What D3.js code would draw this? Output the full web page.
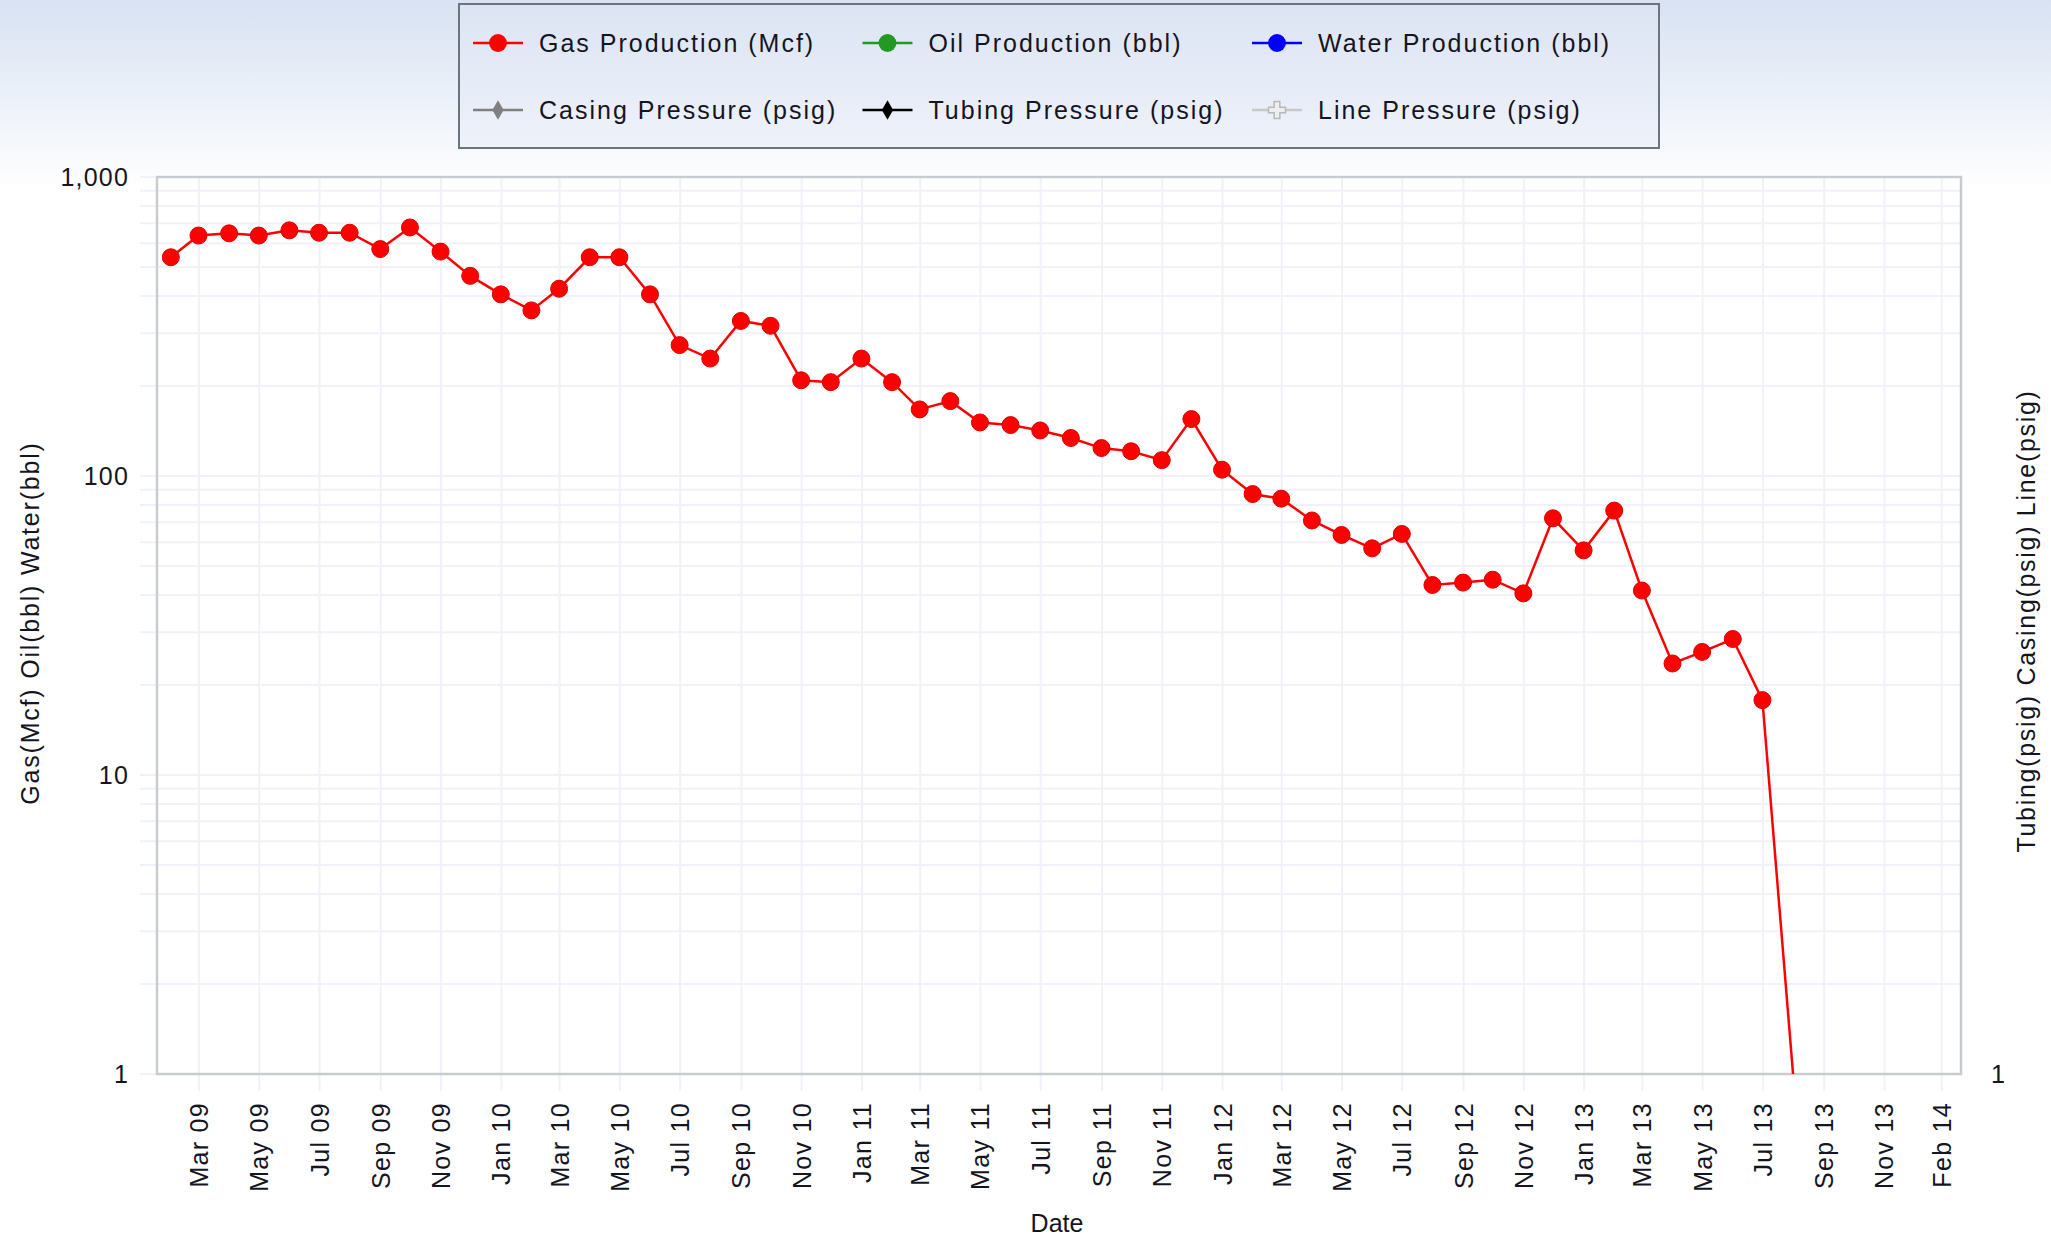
<!DOCTYPE html>
<html>
<head>
<meta charset="utf-8">
<script src="https://cdn.jsdelivr.net/npm/d3@7"></script>
<style>
  html, body { margin: 0; padding: 0; background: #fff; }
  svg text { font-family: "Liberation Sans", Arial, sans-serif; fill: #15151f; }
</style>
</head>
<body>
<div class="chart"></div>
<script>
// monthly production dates (first of month)
var months = [
  "2009-02-01", "2009-03-01", "2009-04-01", "2009-05-01", "2009-06-01", "2009-07-01",
  "2009-08-01", "2009-09-01", "2009-10-01", "2009-11-01", "2009-12-01", "2010-01-01",
  "2010-02-01", "2010-03-01", "2010-04-01", "2010-05-01", "2010-06-01", "2010-07-01",
  "2010-08-01", "2010-09-01", "2010-10-01", "2010-11-01", "2010-12-01", "2011-01-01",
  "2011-02-01", "2011-03-01", "2011-04-01", "2011-05-01", "2011-06-01", "2011-07-01",
  "2011-08-01", "2011-09-01", "2011-10-01", "2011-11-01", "2011-12-01", "2012-01-01",
  "2012-02-01", "2012-03-01", "2012-04-01", "2012-05-01", "2012-06-01", "2012-07-01",
  "2012-08-01", "2012-09-01", "2012-10-01", "2012-11-01", "2012-12-01", "2013-01-01",
  "2013-02-01", "2013-03-01", "2013-04-01", "2013-05-01", "2013-06-01", "2013-07-01",
  "2013-08-01"
];

// Gas production (Mcf), last month reported as 0
var gasProduction = [
  539, 637, 648, 637, 663, 651,
  651, 574, 678, 563, 467, 405,
  358, 423, 539, 539, 405, 274,
  247, 330, 318, 209, 206, 247,
  206, 167, 178, 151, 148, 142,
  134, 124, 121, 113, 155, 105,
  87, 84, 71, 63.5, 57.3, 64,
  43.2, 44, 45, 40.5, 72.2, 56.4,
  76.6, 41.4, 23.6, 25.8, 28.5, 17.8,
  0
];

// other series have no values in this chart
var oilProduction = [];
var waterProduction = [];
var casingPressure = [];
var tubingPressure = [];
var linePressure = [];

var xDomain = ["2009-01-18", "2014-01-18"];
var xTickDates = [
  "2009-03-01", "2009-05-01", "2009-07-01", "2009-09-01", "2009-11-01",
  "2010-01-01", "2010-03-01", "2010-05-01", "2010-07-01", "2010-09-01", "2010-11-01",
  "2011-01-01", "2011-03-01", "2011-05-01", "2011-07-01", "2011-09-01", "2011-11-01",
  "2012-01-01", "2012-03-01", "2012-05-01", "2012-07-01", "2012-09-01", "2012-11-01",
  "2013-01-01", "2013-03-01", "2013-05-01", "2013-07-01", "2013-09-01", "2013-11-01",
  "2013-12-29"
];
var xTickLabels = [
  "Mar 09", "May 09", "Jul 09", "Sep 09", "Nov 09",
  "Jan 10", "Mar 10", "May 10", "Jul 10", "Sep 10", "Nov 10",
  "Jan 11", "Mar 11", "May 11", "Jul 11", "Sep 11", "Nov 11",
  "Jan 12", "Mar 12", "May 12", "Jul 12", "Sep 12", "Nov 12",
  "Jan 13", "Mar 13", "May 13", "Jul 13", "Sep 13", "Nov 13",
  "Feb 14"
];
var yDomain = [1, 1000];
var yTickValues = [1, 10, 100, 1000];
var yTickLabels = ["1", "10", "100", "1,000"];
var y2TickValues = [1];
var y2TickLabels = ["1"];

var legendNames = [
  "Gas Production (Mcf)", "Oil Production (bbl)", "Water Production (bbl)",
  "Casing Pressure (psig)", "Tubing Pressure (psig)", "Line Pressure (psig)"
];
var legendColors = ["#ff0000", "#229922", "#0000ff", "#808080", "#000000", "#c8c8c8"];
var legendSymbols = ["circle", "circle", "circle", "diamond", "diamond", "cross"];

var svgWidth = 2051;
var svgHeight = 1238;
var margin = { top: 177, right: 90, bottom: 164, left: 157 };
var width = svgWidth - margin.left - margin.right;
var height = svgHeight - margin.top - margin.bottom;

var parseDate = d3.utcParse("%Y-%m-%d");

var root = d3.select(".chart")
  .append("svg")
  .attr("width", svgWidth)
  .attr("height", svgHeight);

// background gradients
var defs = root.append("defs");
var bg = defs.append("linearGradient").attr("id", "bgGrad")
  .attr("x1", 0).attr("y1", 0).attr("x2", 0).attr("y2", 1);
bg.append("stop").attr("offset", "0%").attr("stop-color", "#d8e2f2");
bg.append("stop").attr("offset", "100%").attr("stop-color", "#ffffff");
var lg = defs.append("linearGradient").attr("id", "legGrad")
  .attr("x1", 0).attr("y1", 0).attr("x2", 0).attr("y2", 1);
lg.append("stop").attr("offset", "0%").attr("stop-color", "#dce4f3");
lg.append("stop").attr("offset", "100%").attr("stop-color", "#eef2fa");

root.append("rect").attr("width", svgWidth).attr("height", svgHeight).attr("fill", "#fff");
root.append("rect").attr("width", svgWidth).attr("height", 190).attr("fill", "url(#bgGrad)");

var chart = root.append("g")
  .attr("transform", "translate(" + margin.left + "," + margin.top + ")");

// scales
var xTimeScale = d3.scaleUtc()
  .domain(xDomain.map(parseDate))
  .range([0, width]);

var yLogScale = d3.scaleLog()
  .domain(yDomain)
  .range([height, 0])
  .clamp(true);

var y2Scale = d3.scaleLog()
  .domain(yDomain)
  .range([height, 0]);

chart.append("rect")
  .attr("width", width)
  .attr("height", height)
  .attr("fill", "#fff");

// horizontal grid (major + minor log lines), sticking out left of the plot
chart.append("g")
  .selectAll("line")
  .data(yLogScale.ticks())
  .enter()
  .append("line")
  .attr("x1", -17)
  .attr("x2", width)
  .attr("y1", function(d) { return yLogScale(d); })
  .attr("y2", function(d) { return yLogScale(d); })
  .attr("stroke", "#f1f1f9")
  .attr("stroke-width", 2);

// x axis with the tick lines reused as vertical grid
var bottomAxis = d3.axisBottom(xTimeScale)
  .tickValues(xTickDates.map(parseDate))
  .tickFormat(function(d, i) { return xTickLabels[i]; })
  .tickSizeOuter(0)
  .tickSizeInner(-height);

var xAxisG = chart.append("g")
  .attr("class", "x-axis")
  .attr("transform", "translate(0," + height + ")")
  .call(bottomAxis);
xAxisG.select(".domain").remove();
xAxisG.selectAll(".tick line")
  .attr("y1", 17)
  .attr("y2", -height)
  .attr("stroke", "#f1f1f9")
  .attr("stroke-width", 2);
xAxisG.selectAll(".tick text")
  .attr("transform", "rotate(-90)")
  .attr("text-anchor", "end")
  .attr("x", -28)
  .attr("y", 0)
  .attr("dy", "0.36em")
  .style("font-size", "25px")
  .style("letter-spacing", "1.3px")
  .attr("fill", "#15151f");

// plot border
chart.append("rect")
  .attr("width", width)
  .attr("height", height)
  .attr("fill", "none")
  .attr("stroke", "#c9cccf")
  .attr("stroke-width", 2.5);

// left y axis
var leftAxis = d3.axisLeft(yLogScale)
  .tickValues(yTickValues)
  .tickFormat(function(d, i) { return yTickLabels[i]; })
  .tickSize(0)
  .tickPadding(28);
var yAxisG = chart.append("g").attr("class", "y-axis").call(leftAxis);
yAxisG.select(".domain").remove();
yAxisG.selectAll("text")
  .style("font-size", "25px")
  .style("letter-spacing", "1.2px")
  .attr("fill", "#15151f");

// right y axis (pressures, empty)
var rightAxis = d3.axisRight(y2Scale)
  .tickValues(y2TickValues)
  .tickFormat(function(d, i) { return y2TickLabels[i]; })
  .tickSize(0)
  .tickPadding(30);
var y2AxisG = chart.append("g")
  .attr("class", "y2-axis")
  .attr("transform", "translate(" + width + ",0)")
  .call(rightAxis);
y2AxisG.select(".domain").remove();
y2AxisG.selectAll("text")
  .style("font-size", "25px")
  .attr("fill", "#15151f");

// gas production line + markers
var gasData = months.map(function(m, i) {
  return { date: parseDate(m), value: gasProduction[i] };
});

var gasLine = d3.line()
  .x(function(d) { return xTimeScale(d.date); })
  .y(function(d) { return yLogScale(d.value); });

chart.append("path")
  .datum(gasData)
  .attr("d", gasLine)
  .attr("fill", "none")
  .attr("stroke", "#ff0000")
  .attr("stroke-width", 2.5);

chart.append("g")
  .selectAll("circle")
  .data(gasData.filter(function(d) { return d.value > 0; }))
  .enter()
  .append("circle")
  .attr("cx", function(d) { return xTimeScale(d.date); })
  .attr("cy", function(d) { return yLogScale(d.value); })
  .attr("r", 8.5)
  .attr("fill", "#ff0000")
  .attr("stroke", "#dd0000")
  .attr("stroke-width", 1);

// axis titles
root.append("text")
  .attr("transform", "translate(30,623) rotate(-90)")
  .attr("text-anchor", "middle")
  .attr("dy", "0.35em")
  .style("font-size", "25px")
  .style("letter-spacing", "1.8px")
  .text("Gas(Mcf) Oil(bbl) Water(bbl)");

root.append("text")
  .attr("transform", "translate(2026,621) rotate(-90)")
  .attr("text-anchor", "middle")
  .attr("dy", "0.35em")
  .style("font-size", "25px")
  .style("letter-spacing", "1.7px")
  .text("Tubing(psig) Casing(psig) Line(psig)");

root.append("text")
  .attr("x", 1057)
  .attr("y", 1223)
  .attr("text-anchor", "middle")
  .attr("dy", "0.35em")
  .style("font-size", "25px")
  .text("Date");

// legend
var legend = root.append("g").attr("transform", "translate(459,4)");
legend.append("rect")
  .attr("width", 1200)
  .attr("height", 144)
  .attr("fill", "url(#legGrad)")
  .attr("stroke", "#6c747e")
  .attr("stroke-width", 2);

var legendItems = legend.selectAll(".legend-item")
  .data(legendNames)
  .enter()
  .append("g")
  .attr("class", "legend-item")
  .attr("transform", function(d, i) {
    return "translate(" + (39 + (i % 3) * 389.5) + "," + (i < 3 ? 39 : 106) + ")";
  });

legendItems.append("line")
  .attr("x1", -25)
  .attr("x2", 25)
  .attr("stroke", function(d, i) { return legendColors[i]; })
  .attr("stroke-width", 2.5);

legendItems.append("path")
  .attr("d", function(d, i) {
    var s = legendSymbols[i];
    if (s === "circle") return d3.symbol().type(d3.symbolCircle).size(250)();
    if (s === "diamond") return d3.symbol().type(d3.symbolDiamond).size(110)();
    return d3.symbol().type(d3.symbolCross).size(160)();
  })
  .attr("fill", function(d, i) { return legendSymbols[i] === "cross" ? "#eeeeee" : legendColors[i]; })
  .attr("stroke", function(d, i) { return legendSymbols[i] === "cross" ? "#b8b8b8" : "none"; })
  .attr("stroke-width", 1.5);

legendItems.append("text")
  .attr("x", 41)
  .attr("dy", "0.36em")
  .style("font-size", "25px")
  .style("letter-spacing", "2px")
  .text(function(d) { return d; });
</script>
</body>
</html>
